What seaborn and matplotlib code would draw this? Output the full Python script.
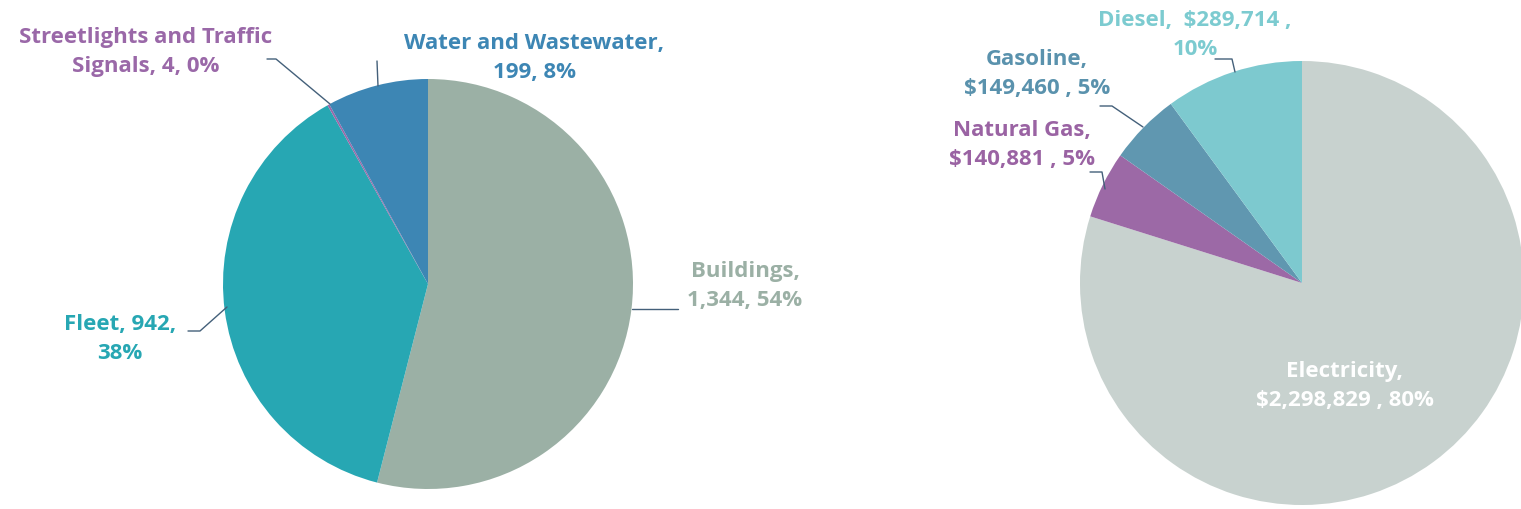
import matplotlib
matplotlib.use("Agg")
import matplotlib.pyplot as plt
import seaborn as sns

# Left pie: emissions by sector
sector_names = ["Buildings", "Fleet", "Streetlights and Traffic Signals", "Water and Wastewater"]
sector_values = [1344, 942, 4, 199]
sector_labels = ["Buildings,\n1,344, 54%", "Fleet, 942,\n38%",
                 "Streetlights and Traffic\nSignals, 4, 0%", "Water and Wastewater,\n199, 8%"]
sector_colors = ["#9BB0A5", "#27A7B3", "#9A68A8", "#3D86B4"]

# Right pie: energy cost by fuel
fuel_names = ["Electricity", "Natural Gas", "Gasoline", "Diesel"]
fuel_values = [2298829, 140881, 149460, 289714]
fuel_labels = ["Electricity,\n$2,298,829 , 80%", "Natural Gas,\n$140,881 , 5%",
               "Gasoline,\n$149,460 , 5%", "Diesel,  $289,714 ,\n10%"]
fuel_colors = ["#C8D2CF", "#9C69A6", "#6097B0", "#7DC9CF"]
fuel_text_colors = ["white", "#9A63A3", "#5A92AD", "#7CCBD0"]

sns.set_theme(style="white")
plt.rcParams["font.family"] = ["Open Sans", "DejaVu Sans"]

W, H = 1521, 510
fig = plt.figure(figsize=(W / 100, H / 100), dpi=100)
ax = fig.add_axes([0, 0, 1, 1])

def py(y):
    # convert pixel-from-top to data y
    return H - y

ax.pie(sector_values, colors=sector_colors, startangle=90, counterclock=False,
       center=(428, py(285)), radius=205, frame=True,
       wedgeprops=dict(linewidth=0))
ax.pie(fuel_values, colors=fuel_colors, startangle=90, counterclock=False,
       center=(1302, py(284)), radius=222, frame=True,
       wedgeprops=dict(linewidth=0))

ax.set_xlim(0, W)
ax.set_ylim(0, H)
ax.set_aspect("equal")
ax.axis("off")

fs = 16
text_kw = dict(ha="center", va="center", fontsize=fs, fontweight="bold", linespacing=1.55)

# left labels
left_pos = [(745, 286), (120, 339), (146, 52), (534, 58)]
for lab, col, (x, y) in zip(sector_labels, sector_colors, left_pos):
    ax.text(x, py(y), lab, color=col, **text_kw)

# right labels
right_pos = [(1345, 386), (1022, 145), (1037, 74), (1195, 35)]
for lab, col, (x, y) in zip(fuel_labels, fuel_text_colors, right_pos):
    ax.text(x, py(y), lab, color=col, **text_kw)

# leader lines
leader = "#44607a"
lines = [
    [(267, 60), (276, 60), (330, 105)],
    [(377, 62), (378, 87)],
    [(632, 310), (678, 310)],
    [(188, 332), (200, 332), (227, 308)],
    [(1215, 60), (1232, 60), (1235, 73)],
    [(1100, 107), (1112, 107), (1143, 128)],
    [(1090, 173), (1102, 173), (1105, 190)],
]
for pts in lines:
    xs = [p[0] for p in pts]
    ys = [py(p[1]) for p in pts]
    ax.plot(xs, ys, color=leader, lw=1)

fig.savefig("out.png", dpi=100)
